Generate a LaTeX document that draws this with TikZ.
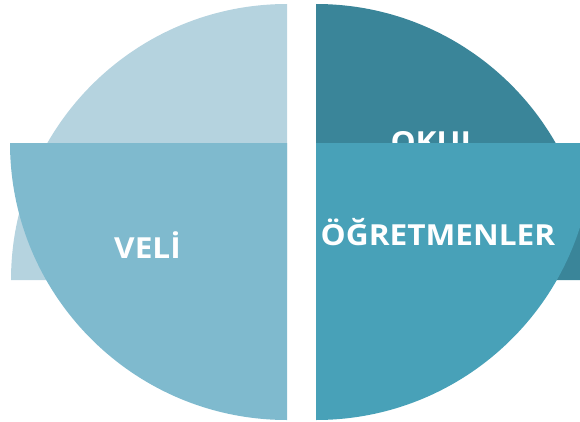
\documentclass[tikz,border=0pt]{standalone}
\usepackage{fontspec}
\setmainfont{Open Sans}[FakeStretch=1.09]
\usepackage{tikz}
\definecolor{acik}{HTML}{B5D3DF}
\definecolor{koyu}{HTML}{3A8599}
\definecolor{velimavi}{HTML}{7FBACE}
\definecolor{ogrmavi}{HTML}{48A1B8}
\tikzset{etiket/.style={text=white,anchor=base,inner sep=0pt,font=\bfseries\fontsize{16.5}{18}\selectfont}}

\begin{document}
\begin{tikzpicture}
\clip (0,0) rectangle (11.6,8.42);
\fill [acik] (5.74,2.82) -- ++(180:5.52) arc (180:90:5.52) -- cycle;
\fill [koyu] (6.32,2.82) -- ++(0:5.52) arc (0:90:5.52) -- cycle;
\node [etiket] (okul) at (8.69,5.38) {OKUL};
\fill [velimavi] (5.74,5.56) -- ++(180:5.54) arc (180:270:5.54) -- cycle;
\fill [ogrmavi] (6.32,5.56) -- ++(0:5.54) arc (0:-90:5.54) -- cycle;
\node [etiket] (veli) at (2.95,3.26) {VELİ};
\node [etiket] (ogretmenler) at (8.76,3.52) {ÖĞRETMENLER};
\end{tikzpicture}
\end{document}
